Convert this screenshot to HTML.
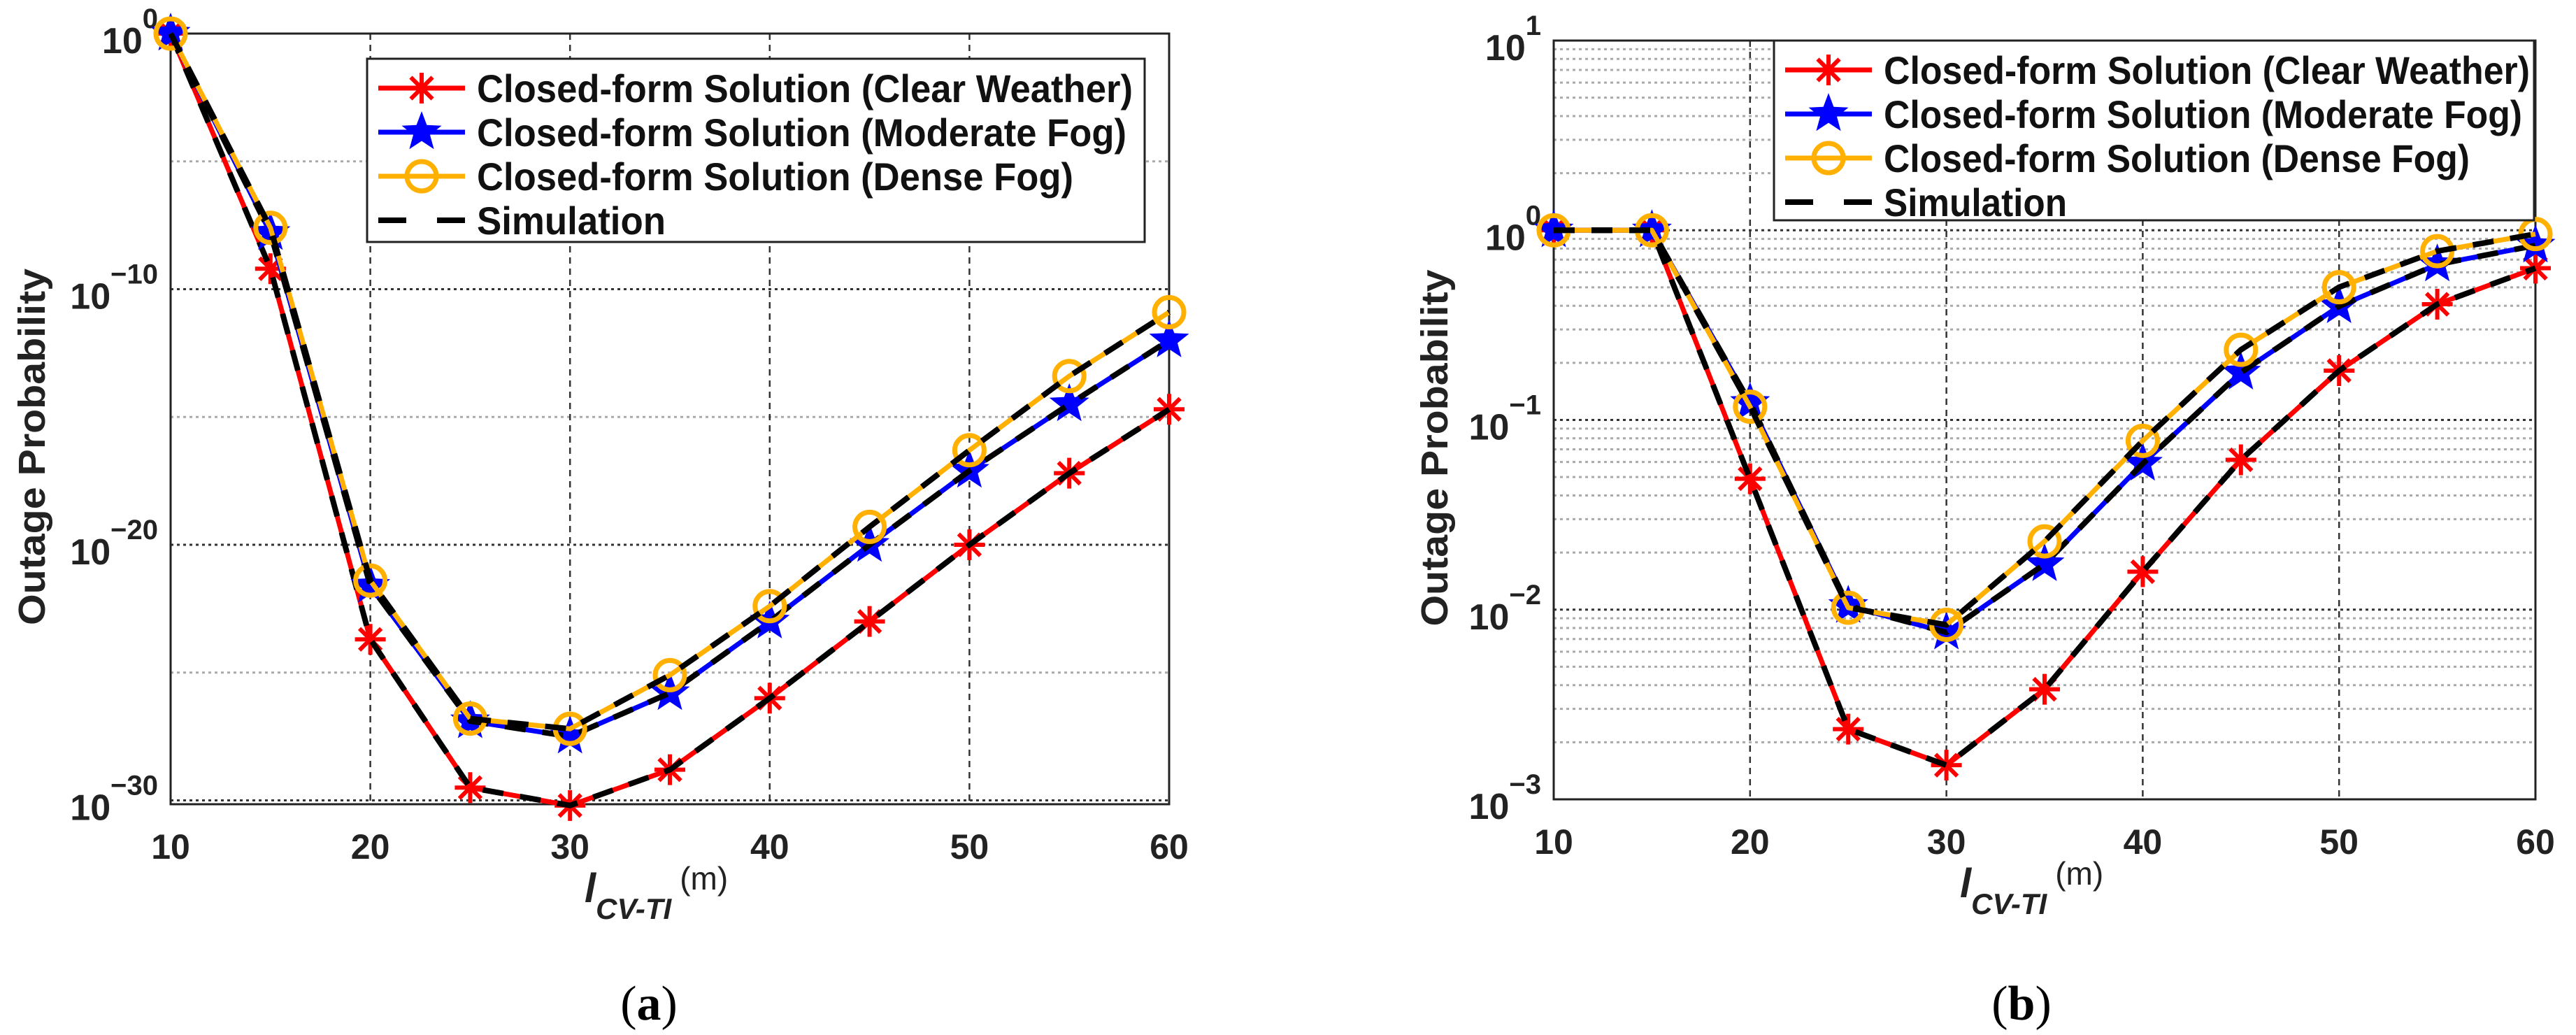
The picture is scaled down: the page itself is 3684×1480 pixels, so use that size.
<!DOCTYPE html>
<html><head><meta charset="utf-8"><style>
html,body{margin:0;padding:0;background:#fff;}
svg{display:block;font-family:"Liberation Sans",Arial,sans-serif;}
</style></head><body>
<svg id="fig" width="3684" height="1480" viewBox="0 0 3684 1480" xmlns="http://www.w3.org/2000/svg"></svg>
<script>
const xVals = [10,15,20,25,30,35,40,45,50,55,60];
const xTicks = [10,20,30,40,50,60];
// panel (a) log10 outage probability
const aClear    = [0,-9.2,-23.7,-29.5,-30.2,-28.8,-26.0,-23.0,-20.0,-17.2,-14.7];
const aModerate = [0,-7.8,-21.6,-26.9,-27.5,-25.8,-23.0,-20.0,-17.1,-14.5,-12.0];
const aDense    = [0,-7.6,-21.4,-26.8,-27.2,-25.1,-22.4,-19.3,-16.3,-13.4,-10.9];
const aYTicks = [0,-10,-20,-30];
// panel (b) log10 outage probability
const bClear    = [0,0,-1.31,-2.63,-2.82,-2.42,-1.80,-1.21,-0.74,-0.39,-0.20];
const bModerate = [0,0,-0.91,-1.98,-2.12,-1.76,-1.23,-0.75,-0.40,-0.18,-0.08];
const bDense    = [0,0,-0.93,-1.99,-2.08,-1.64,-1.11,-0.63,-0.30,-0.11,-0.02];
const bYTicks = [1,0,-1,-2,-3];
const legendLabels = ["Closed-form Solution (Clear Weather)","Closed-form Solution (Moderate Fog)","Closed-form Solution (Dense Fog)","Simulation"];

const NS="http://www.w3.org/2000/svg";
const svg=document.getElementById('fig');
function mk(tag,attrs,parent){const e=document.createElementNS(NS,tag);for(const k in attrs)e.setAttribute(k,attrs[k]);(parent||svg).appendChild(e);return e;}

function starPts(cx,cy,R){const r=R*0.42;let p=[];for(let i=0;i<10;i++){const a=-Math.PI/2+i*Math.PI/5;const rr=i%2?r:R;p.push((cx+rr*Math.cos(a)).toFixed(1)+','+(cy+rr*Math.sin(a)).toFixed(1));}return p.join(' ');}
function marker(type,cx,cy,g){
  if(type==='clear'){const m=mk('g',{stroke:'#ff0000','stroke-width':6},g);
    
    const R=22;for(let i=0;i<4;i++){const a=i*Math.PI/4;mk('line',{x1:cx-R*Math.cos(a),y1:cy-R*Math.sin(a),x2:cx+R*Math.cos(a),y2:cy+R*Math.sin(a)},m);}}
  else if(type==='moderate'){const m=mk('polygon',{points:starPts(cx,cy,30),fill:'#0000ff'},g);
    }
  else {const m=mk('circle',{cx:cx,cy:cy,r:21,fill:'none',stroke:'#ffb000','stroke-width':7},g);
    }
}

function panel(o){
  const P=o.P, xs=v=>P.x0+(v-10)/50*(P.x1-P.x0), ys=v=>P.y0+(o.ymax-v)/(o.ymax-o.ymin)*(P.y1-P.y0);
  const g=mk('g',{});
  if(o.minor){for(let d=Math.ceil(o.ymin);d<o.ymax;d++){for(let k=2;k<=9;k++){const v=d+Math.log10(k);if(v<=o.ymin||v>=o.ymax)continue;
    const l=mk('line',{x1:P.x0,x2:P.x1,y1:ys(v),y2:ys(v),stroke:'#aaa','stroke-width':3,'stroke-dasharray':'4 5'},g);
    }}}
  for(const v of o.grid){const l=mk('line',{x1:P.x0,x2:P.x1,y1:ys(v),y2:ys(v),stroke:o.gridCol(v),'stroke-width':3,'stroke-dasharray':'4 5'},g);
    }
  for(const t of xTicks.slice(1,-1)){const l=mk('line',{x1:xs(t),x2:xs(t),y1:P.y0,y2:P.y1,stroke:'#333','stroke-width':2.5,'stroke-dasharray':'9 7'},g);
    }
  const box=mk('rect',{x:P.x0,y:P.y0,width:P.x1-P.x0,height:P.y1-P.y0,fill:'none',stroke:'#222','stroke-width':3},g);
  
  for(const t of xTicks){const tx=mk('text',{x:xs(t),y:P.y1+78,'text-anchor':'middle','font-size':50,'font-weight':'bold',fill:'#222'},g);tx.textContent=t;
    }
  for(const t of o.yTicks){const tx=mk('text',{x:P.x0-18,y:ys(t)+28,'text-anchor':'end','font-size':52,'font-weight':'bold',fill:'#222'},g);
    
    const b=mk('tspan',{},tx);b.textContent='10';const s=mk('tspan',{'font-size':40,dy:-36},tx);s.textContent=(t<0?'\u2212'+(-t):t);}
  const yt=mk('text',{x:0,y:0,transform:`translate(${o.ytx},${(P.y0+P.y1)/2+40}) rotate(-90)`,'text-anchor':'middle','font-size':54,'font-weight':'bold',fill:'#222',textLength:510,lengthAdjust:'spacingAndGlyphs'},g);
  yt.textContent='Outage Probability';
  const xt=mk('text',{x:o.xlx,y:P.y1+140,'font-size':58,fill:'#222'},g);
  const t1=mk('tspan',{'font-style':'italic','font-weight':'bold'},xt);t1.textContent='l';
  const t2=mk('tspan',{'font-style':'italic','font-weight':'bold','font-size':42,dy:24},xt);t2.textContent='CV-TI';
  const t3=mk('tspan',{'font-size':46,dy:-42,dx:12},xt);t3.textContent='(m)';
  const cap=mk('text',{x:o.capx,y:1458,'text-anchor':'middle','font-size':70,'font-family':'"Liberation Serif",serif',fill:'#000'},g);
  
  const c1=mk('tspan',{},cap);c1.textContent='(';const c2=mk('tspan',{'font-weight':'bold'},cap);c2.textContent=o.cap;const c3=mk('tspan',{},cap);c3.textContent=')';
  const series=[['clear','#ff0000',o.data[0]],['moderate','#0000ff',o.data[1]],['dense','#ffb000',o.data[2]]];
  for(const [nm,col,d] of series){const pts=xVals.map((x,i)=>xs(x).toFixed(1)+','+ys(d[i]).toFixed(1)).join(' ');
    const l=mk('polyline',{points:pts,fill:'none',stroke:col,'stroke-width':7,'stroke-linejoin':'round'},g);
    
    const mg=mk('g',{},g);
    xVals.forEach((x,i)=>marker(nm,xs(x),ys(d[i]),mg));
    const s=mk('polyline',{points:pts,fill:'none',stroke:'#000','stroke-width':8,'stroke-dasharray':'30 24'},g);
    }
  const L=o.L;const lg=mk('g',{},g);
  mk('rect',{x:L.x,y:L.y,width:L.w,height:L.h,fill:'#fff',stroke:'#222','stroke-width':3},lg);
  const types=['clear','moderate','dense'],cols=['#ff0000','#0000ff','#ffb000'];
  for(let i=0;i<4;i++){const cy=L.y+42+i*63;const e=mk('g',{},lg);
    if(i<3){mk('line',{x1:L.x+16,x2:L.x+140,y1:cy,y2:cy,stroke:cols[i],'stroke-width':7},e);marker(types[i],L.x+78,cy,e);}
    else{mk('line',{x1:L.x+16,x2:L.x+140,y1:cy,y2:cy,stroke:'#000','stroke-width':8,'stroke-dasharray':'40 44'},e);}
    const tx=mk('text',{x:L.x+157,y:cy+20,'font-size':56,'font-weight':'bold',fill:'#111',lengthAdjust:'spacingAndGlyphs'},e);tx.textContent=legendLabels[i];
    tx.setAttribute('textLength',L.tl[i]);}
}
panel({name:'panel-a',P:{x0:244,x1:1672,y0:48,y1:1150},ymax:0,ymin:-30.15,yTicks:aYTicks,grid:[0,-5,-10,-15,-20,-25,-30],
  gridCol:v=>v%10===0?'#333':'#aaa',minor:false,data:[aClear,aModerate,aDense],ytx:64,xlx:836,capx:928,cap:'a',
  L:{x:525,y:84,w:1112,h:262,tl:[938,929,853,270]}});
panel({name:'panel-b',P:{x0:2222,x1:3626,y0:58,y1:1143},ymax:1,ymin:-3,yTicks:bYTicks,grid:[1,0,-1,-2,-3],
  gridCol:v=>'#333',minor:true,data:[bClear,bModerate,bDense],ytx:2070,xlx:2803,capx:2891,cap:'b',
  L:{x:2537,y:58,w:1087,h:257,tl:[924,913,838,262]}});
</script>
</body></html>
